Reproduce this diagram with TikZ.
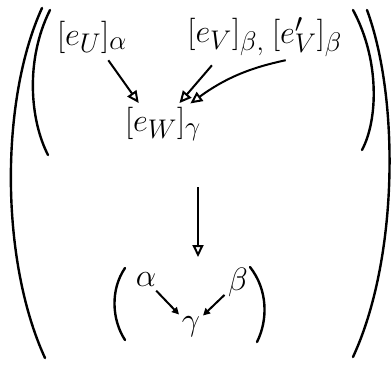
\documentclass[tikz,border=0pt]{standalone}
\usepackage{tikz}
\usetikzlibrary{positioning,arrows.meta}

\tikzset{
  big/.style={font=\Huge, scale=1.3, inner sep=1.5pt},
  arr/.style={line width=2pt, -{Triangle[open,length=12pt,width=11pt]}},
  sarr/.style={line width=2pt, -{Triangle[length=7pt,width=7pt]}},
  paren/.style={line width=2.4pt, line cap=round},
}

\begin{document}
\begin{tikzpicture}[x=1pt,y=-1pt]
  \useasboundingbox (0,0) rectangle (391,367);
  % outer and inner brackets
  \draw[paren] (42,8) .. controls (0,100) and (0,260) .. (45,358);
  \draw[paren] (50,10) .. controls (25,60) and (30,120) .. (48,155);
  \draw[paren] (353,10) .. controls (380,60) and (378,120) .. (362,150);
  \draw[paren] (367,10) .. controls (400,100) and (398,260) .. (353,357);

  % upper part
  \node[big] (eu) at (92,37) {$[e_U]_\alpha$};
  \node[big] (ev) at (226,37) {$[e_V]_{\beta,}$};
  \node[big] (evp) at (307,37) {$[e'_V]_\beta$};
  \node[big] (ew) at (163,124) {$[e_W]_\gamma$};
  \draw[arr, shorten <=6pt, shorten >=2pt] (eu.-55) -- (ew.140);
  \draw[arr, shorten <=10pt, shorten >=2pt] (ev.250) -- (ew.52);
  \draw[arr, shorten <=6pt, shorten >=2pt] (evp.235) to[bend right=12] (ew.37);

  % down arrow
  \coordinate (dstart) at (198,187);
  \coordinate (dend) at (198,257);
  \draw[arr] (dstart) -- (dend);

  % lower part
  \node[big] (al) at (146,280) {$\alpha$};
  \node[big] (be) at (238,282) {$\beta$};
  \node[big] (gm) at (191,327) {$\gamma$};
  \draw[sarr, shorten <=2pt, shorten >=1pt] (al) -- (gm);
  \draw[sarr, shorten <=2pt, shorten >=1pt] (be) -- (gm);
  \draw[paren] (125,268) .. controls (110,290) and (112,320) .. (125,340);
  \draw[paren] (250,267) .. controls (268,290) and (268,320) .. (257,342);
\end{tikzpicture}
\end{document}
